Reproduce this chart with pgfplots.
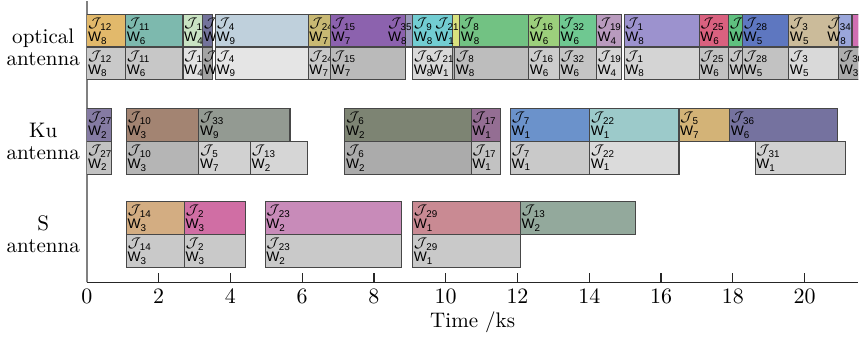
\documentclass[border=0pt]{standalone}
\usepackage{pgfplots}
\pgfplotsset{compat=1.18}
\usepackage{fontspec}
\newfontfamily\labfont{Liberation Sans}
% optical antenna, scheme 1
\definecolor{o12}{HTML}{E2B96B}\definecolor{o11}{HTML}{7DB9AE}\definecolor{o18}{HTML}{C9E3C3}
\definecolor{o26}{HTML}{73739B}\definecolor{o4}{HTML}{BFD0DC}\definecolor{o24}{HTML}{C8B873}
\definecolor{o15}{HTML}{8C62AE}\definecolor{o35}{HTML}{9A9ABC}\definecolor{o9}{HTML}{72CDD2}
\definecolor{o21}{HTML}{D9E27E}\definecolor{o8}{HTML}{72C283}\definecolor{o16}{HTML}{9CCF7C}
\definecolor{o32}{HTML}{6FC891}\definecolor{o19}{HTML}{B99BBE}\definecolor{o1}{HTML}{9C92CE}
\definecolor{o25}{HTML}{D9617F}\definecolor{o20}{HTML}{5FC07F}\definecolor{o28}{HTML}{5E77C0}
\definecolor{o3}{HTML}{CBBB9A}\definecolor{o34}{HTML}{9AA6DA}\definecolor{o30}{HTML}{D06FB2}
% Ku antenna
\definecolor{k27}{HTML}{857BA3}\definecolor{k10}{HTML}{A38472}\definecolor{k33}{HTML}{939A92}
\definecolor{k6}{HTML}{7D8473}\definecolor{k17}{HTML}{946E93}\definecolor{k7}{HTML}{6B92CB}
\definecolor{k22}{HTML}{9CCACA}\definecolor{k5}{HTML}{D3B377}\definecolor{k36}{HTML}{75729F}
% S antenna
\definecolor{s14}{HTML}{D3AD82}\definecolor{s2}{HTML}{D06EA4}\definecolor{s23}{HTML}{C88BB9}
\definecolor{s29}{HTML}{C98A93}\definecolor{s13}{HTML}{93A99C}

\newcommand{\sub}[1]{\raisebox{-1.2pt}{\fontsize{4.9}{5}\selectfont #1}}
\tikzset{lab/.style={font=\labfont\fontsize{6.9}{5.9}\selectfont, align=left, inner xsep=0.4pt, inner ysep=1.6pt}}
% start, end, ybottom, ytop, colour, J, W
\newcommand{\gbL}[7]{%
  \addplot[forget plot, fill=#5, draw=black!72, line width=0.55pt] coordinates {(#1,#3) (#2,#3) (#2,#4) (#1,#4)} -- cycle;
  \node[lab, anchor=north west] at (axis cs:#1,#4) {$\mathcal{J}$\kern-0.6pt\sub{#6}\\W\sub{#7}};
}
\newcommand{\gbR}[7]{%
  \addplot[forget plot, fill=#5, draw=black!72, line width=0.55pt] coordinates {(#1,#3) (#2,#3) (#2,#4) (#1,#4)} -- cycle;
  \node[lab, anchor=north east] at (axis cs:#2,#4) {$\mathcal{J}$\kern-0.6pt\sub{#6}\\W\sub{#7}};
}
\newcommand{\gbN}[7]{%
  \addplot[forget plot, fill=#5, draw=black!72, line width=0.55pt] coordinates {(#1,#3) (#2,#3) (#2,#4) (#1,#4)} -- cycle;
}
\newcommand{\OT}[6][L]{\csname gb#1\endcsname{#2}{#3}{7.18}{8.17}{#4}{#5}{#6}}
\newcommand{\OB}[6][L]{\csname gb#1\endcsname{#2}{#3}{6.19}{7.18}{#4}{#5}{#6}}
\newcommand{\KT}[6][L]{\csname gb#1\endcsname{#2}{#3}{4.30}{5.30}{#4}{#5}{#6}}
\newcommand{\KB}[6][L]{\csname gb#1\endcsname{#2}{#3}{3.30}{4.30}{#4}{#5}{#6}}
\newcommand{\ST}[6][L]{\csname gb#1\endcsname{#2}{#3}{1.46}{2.46}{#4}{#5}{#6}}
\newcommand{\SB}[6][L]{\csname gb#1\endcsname{#2}{#3}{0.46}{1.46}{#4}{#5}{#6}}

\begin{document}
\begin{tikzpicture}
\begin{axis}[
  scale only axis, width=384.9pt, height=140.5pt,
  xmin=0, xmax=21.5, ymin=0, ymax=8.59,
  axis x line=bottom, axis y line=left,
  x axis line style={-, draw=black!85, line width=0.6pt},
  y axis line style={-, draw=black!50, line width=0.8pt},
  xtick={0,2,...,20}, tick align=inside, major tick length=4.5pt,
  xtick style={draw=black!85, line width=0.6pt},
  ytick={1.46,4.30,7.18},
  yticklabels={{S\\antenna},{Ku\\antenna},{optical\\antenna}},
  yticklabel style={align=center, font=\fontsize{10.5}{11}\selectfont},
  ytick style={draw=none},
  xticklabel style={font=\fontsize{10.5}{12}\selectfont},
  xlabel={Time /ks},
  xlabel style={font=\fontsize{10.5}{12}\selectfont, yshift=3pt},
]
% optical antenna, upper (coloured)
\OT{0}{1.08}{o12}{12}{8}
\OT{1.08}{2.68}{o11}{11}{6}
\OT{2.68}{3.22}{o18}{18}{4}
\OT{3.22}{3.49}{o26}{26}{2}
\OT{3.58}{6.17}{o4}{4}{9}
\OT{6.17}{6.79}{o24}{24}{7}
\OT{6.79}{8.89}{o15}{15}{7}
\OT[R]{8.89}{9.08}{o35}{35}{8}
\OT{9.08}{10.19}{o9}{9}{8}
\OT[R]{10.19}{10.39}{o21}{21}{1}
\OT{10.39}{12.31}{o8}{8}{8}
\OT{12.31}{13.17}{o16}{16}{6}
\OT{13.17}{14.20}{o32}{32}{6}
\OT{14.20}{14.90}{o19}{19}{4}
\OT{14.97}{17.06}{o1}{1}{8}
\OT{17.06}{17.88}{o25}{25}{6}
\OT{17.88}{18.27}{o20}{20}{5}
\OT{18.27}{19.56}{o28}{28}{5}
\OT{19.56}{20.95}{o3}{3}{5}
\OT[R]{20.95}{21.32}{o34}{34}{8}
\OT[N]{21.32}{22.5}{o30}{30}{3}
% optical antenna, lower (grey)
\OB{0}{1.08}{black!21}{12}{8}
\OB{1.08}{2.68}{black!22}{11}{6}
\OB{2.68}{3.22}{black!11}{18}{4}
\OB{3.22}{3.49}{black!36}{26}{2}
\OB{3.58}{6.17}{black!10}{4}{9}
\OB{6.17}{6.79}{black!21}{24}{7}
\OB{6.79}{8.89}{black!27}{15}{7}
\OB{9.08}{10.19}{black!15}{9}{8}
\OB[R]{10.19}{10.25}{black!30}{21}{1}
\OB{10.25}{12.31}{black!26}{8}{8}
\OB{12.31}{13.17}{black!20}{16}{6}
\OB{13.17}{14.20}{black!23}{32}{6}
\OB{14.20}{14.90}{black!16}{19}{4}
\OB{14.97}{17.06}{black!17}{1}{8}
\OB{17.06}{17.88}{black!24}{25}{6}
\OB{17.88}{18.27}{black!22}{20}{5}
\OB{18.27}{19.56}{black!24}{28}{5}
\OB{19.56}{20.95}{black!15}{3}{5}
\OB{20.95}{22.5}{black!32}{30}{3}
% Ku antenna, upper
\KT{0}{0.69}{k27}{27}{2}
\KT{1.10}{3.12}{k10}{10}{3}
\KT{3.12}{5.66}{k33}{33}{9}
\KT{7.19}{10.71}{k6}{6}{2}
\KT{10.71}{11.52}{k17}{17}{1}
\KT{11.80}{14.01}{k7}{7}{1}
\KT{14.01}{16.50}{k22}{22}{1}
\KT{16.50}{17.91}{k5}{5}{7}
\KT{17.91}{20.91}{k36}{36}{6}
% Ku antenna, lower
\KB{0}{0.69}{black!24}{27}{2}
\KB{1.10}{3.12}{black!29}{10}{3}
\KB{3.12}{4.56}{black!18}{5}{7}
\KB{4.56}{6.14}{black!16}{13}{2}
\KB{7.19}{10.71}{black!33}{6}{2}
\KB{10.71}{11.52}{black!24}{17}{1}
\KB{11.80}{14.01}{black!21}{7}{1}
\KB{14.01}{16.50}{black!14}{22}{1}
\KB{18.62}{21.13}{black!18}{31}{1}
% S antenna, upper
\ST{1.10}{2.72}{s14}{14}{3}
\ST{2.72}{4.42}{s2}{2}{3}
\ST{4.97}{8.77}{s23}{23}{2}
\ST{9.08}{12.08}{s29}{29}{1}
\ST{12.08}{15.29}{s13}{13}{2}
% S antenna, lower
\SB{1.10}{2.72}{black!21}{14}{3}
\SB{2.72}{4.42}{black!21}{2}{3}
\SB{4.97}{8.77}{black!21}{23}{2}
\SB{9.08}{12.08}{black!21}{29}{1}
\end{axis}
\end{tikzpicture}
\end{document}
